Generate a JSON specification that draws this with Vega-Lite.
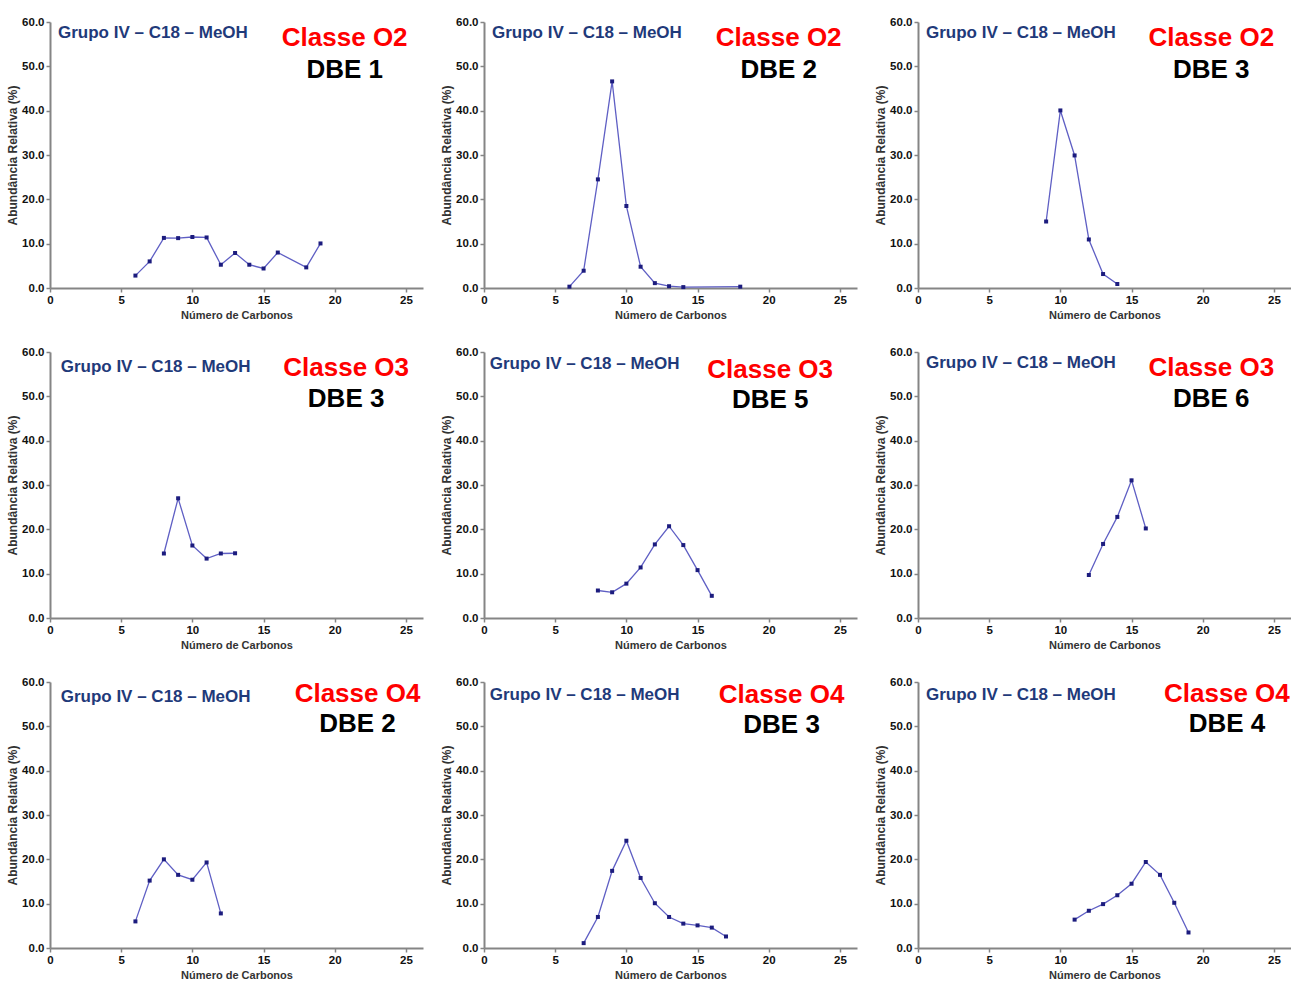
{
  "$schema": "https://vega.github.io/schema/vega-lite/v6.json",
  "background": "white",
  "padding": {"left": 6, "top": 16, "right": 0, "bottom": 0},
  "bounds": "flush",
  "spacing": {"row": 64, "column": 61},
  "columns": 3,
  "data": {"values": [
    {"panel": "O2-1", "classe": "Classe O2", "dbe": "DBE 1", "c": 6, "a": 2.8},
    {"panel": "O2-1", "classe": "Classe O2", "dbe": "DBE 1", "c": 7, "a": 6.0},
    {"panel": "O2-1", "classe": "Classe O2", "dbe": "DBE 1", "c": 8, "a": 11.3},
    {"panel": "O2-1", "classe": "Classe O2", "dbe": "DBE 1", "c": 9, "a": 11.25},
    {"panel": "O2-1", "classe": "Classe O2", "dbe": "DBE 1", "c": 10, "a": 11.5},
    {"panel": "O2-1", "classe": "Classe O2", "dbe": "DBE 1", "c": 11, "a": 11.4},
    {"panel": "O2-1", "classe": "Classe O2", "dbe": "DBE 1", "c": 12, "a": 5.25},
    {"panel": "O2-1", "classe": "Classe O2", "dbe": "DBE 1", "c": 13, "a": 7.9},
    {"panel": "O2-1", "classe": "Classe O2", "dbe": "DBE 1", "c": 14, "a": 5.25},
    {"panel": "O2-1", "classe": "Classe O2", "dbe": "DBE 1", "c": 15, "a": 4.4},
    {"panel": "O2-1", "classe": "Classe O2", "dbe": "DBE 1", "c": 16, "a": 8.0},
    {"panel": "O2-1", "classe": "Classe O2", "dbe": "DBE 1", "c": 18, "a": 4.65},
    {"panel": "O2-1", "classe": "Classe O2", "dbe": "DBE 1", "c": 19, "a": 10.05},
    {"panel": "O2-2", "classe": "Classe O2", "dbe": "DBE 2", "c": 6, "a": 0.3},
    {"panel": "O2-2", "classe": "Classe O2", "dbe": "DBE 2", "c": 7, "a": 3.9},
    {"panel": "O2-2", "classe": "Classe O2", "dbe": "DBE 2", "c": 8, "a": 24.5},
    {"panel": "O2-2", "classe": "Classe O2", "dbe": "DBE 2", "c": 9, "a": 46.6},
    {"panel": "O2-2", "classe": "Classe O2", "dbe": "DBE 2", "c": 10, "a": 18.5},
    {"panel": "O2-2", "classe": "Classe O2", "dbe": "DBE 2", "c": 11, "a": 4.8},
    {"panel": "O2-2", "classe": "Classe O2", "dbe": "DBE 2", "c": 12, "a": 1.1},
    {"panel": "O2-2", "classe": "Classe O2", "dbe": "DBE 2", "c": 13, "a": 0.4},
    {"panel": "O2-2", "classe": "Classe O2", "dbe": "DBE 2", "c": 14, "a": 0.2},
    {"panel": "O2-2", "classe": "Classe O2", "dbe": "DBE 2", "c": 18, "a": 0.3},
    {"panel": "O2-3", "classe": "Classe O2", "dbe": "DBE 3", "c": 9, "a": 15.0},
    {"panel": "O2-3", "classe": "Classe O2", "dbe": "DBE 3", "c": 10, "a": 40.05},
    {"panel": "O2-3", "classe": "Classe O2", "dbe": "DBE 3", "c": 11, "a": 29.9},
    {"panel": "O2-3", "classe": "Classe O2", "dbe": "DBE 3", "c": 12, "a": 10.95},
    {"panel": "O2-3", "classe": "Classe O2", "dbe": "DBE 3", "c": 13, "a": 3.15},
    {"panel": "O2-3", "classe": "Classe O2", "dbe": "DBE 3", "c": 14, "a": 0.9},
    {"panel": "O3-3", "classe": "Classe O3", "dbe": "DBE 3", "c": 8, "a": 14.55},
    {"panel": "O3-3", "classe": "Classe O3", "dbe": "DBE 3", "c": 9, "a": 27.0},
    {"panel": "O3-3", "classe": "Classe O3", "dbe": "DBE 3", "c": 10, "a": 16.35},
    {"panel": "O3-3", "classe": "Classe O3", "dbe": "DBE 3", "c": 11, "a": 13.4},
    {"panel": "O3-3", "classe": "Classe O3", "dbe": "DBE 3", "c": 12, "a": 14.55},
    {"panel": "O3-3", "classe": "Classe O3", "dbe": "DBE 3", "c": 13, "a": 14.6},
    {"panel": "O3-5", "classe": "Classe O3", "dbe": "DBE 5", "c": 8, "a": 6.2},
    {"panel": "O3-5", "classe": "Classe O3", "dbe": "DBE 5", "c": 9, "a": 5.8},
    {"panel": "O3-5", "classe": "Classe O3", "dbe": "DBE 5", "c": 10, "a": 7.75},
    {"panel": "O3-5", "classe": "Classe O3", "dbe": "DBE 5", "c": 11, "a": 11.4},
    {"panel": "O3-5", "classe": "Classe O3", "dbe": "DBE 5", "c": 12, "a": 16.6},
    {"panel": "O3-5", "classe": "Classe O3", "dbe": "DBE 5", "c": 13, "a": 20.7},
    {"panel": "O3-5", "classe": "Classe O3", "dbe": "DBE 5", "c": 14, "a": 16.45},
    {"panel": "O3-5", "classe": "Classe O3", "dbe": "DBE 5", "c": 15, "a": 10.8},
    {"panel": "O3-5", "classe": "Classe O3", "dbe": "DBE 5", "c": 16, "a": 5.0},
    {"panel": "O3-6", "classe": "Classe O3", "dbe": "DBE 6", "c": 12, "a": 9.7},
    {"panel": "O3-6", "classe": "Classe O3", "dbe": "DBE 6", "c": 13, "a": 16.7},
    {"panel": "O3-6", "classe": "Classe O3", "dbe": "DBE 6", "c": 14, "a": 22.8},
    {"panel": "O3-6", "classe": "Classe O3", "dbe": "DBE 6", "c": 15, "a": 31.05},
    {"panel": "O3-6", "classe": "Classe O3", "dbe": "DBE 6", "c": 16, "a": 20.2},
    {"panel": "O4-2", "classe": "Classe O4", "dbe": "DBE 2", "c": 6, "a": 6.0},
    {"panel": "O4-2", "classe": "Classe O4", "dbe": "DBE 2", "c": 7, "a": 15.2},
    {"panel": "O4-2", "classe": "Classe O4", "dbe": "DBE 2", "c": 8, "a": 20.0},
    {"panel": "O4-2", "classe": "Classe O4", "dbe": "DBE 2", "c": 9, "a": 16.5},
    {"panel": "O4-2", "classe": "Classe O4", "dbe": "DBE 2", "c": 10, "a": 15.4},
    {"panel": "O4-2", "classe": "Classe O4", "dbe": "DBE 2", "c": 11, "a": 19.3},
    {"panel": "O4-2", "classe": "Classe O4", "dbe": "DBE 2", "c": 12, "a": 7.8},
    {"panel": "O4-3", "classe": "Classe O4", "dbe": "DBE 3", "c": 7, "a": 1.1},
    {"panel": "O4-3", "classe": "Classe O4", "dbe": "DBE 3", "c": 8, "a": 7.0},
    {"panel": "O4-3", "classe": "Classe O4", "dbe": "DBE 3", "c": 9, "a": 17.4},
    {"panel": "O4-3", "classe": "Classe O4", "dbe": "DBE 3", "c": 10, "a": 24.2},
    {"panel": "O4-3", "classe": "Classe O4", "dbe": "DBE 3", "c": 11, "a": 15.8},
    {"panel": "O4-3", "classe": "Classe O4", "dbe": "DBE 3", "c": 12, "a": 10.1},
    {"panel": "O4-3", "classe": "Classe O4", "dbe": "DBE 3", "c": 13, "a": 7.0},
    {"panel": "O4-3", "classe": "Classe O4", "dbe": "DBE 3", "c": 14, "a": 5.5},
    {"panel": "O4-3", "classe": "Classe O4", "dbe": "DBE 3", "c": 15, "a": 5.1},
    {"panel": "O4-3", "classe": "Classe O4", "dbe": "DBE 3", "c": 16, "a": 4.6},
    {"panel": "O4-3", "classe": "Classe O4", "dbe": "DBE 3", "c": 17, "a": 2.6},
    {"panel": "O4-4", "classe": "Classe O4", "dbe": "DBE 4", "c": 11, "a": 6.4},
    {"panel": "O4-4", "classe": "Classe O4", "dbe": "DBE 4", "c": 12, "a": 8.4},
    {"panel": "O4-4", "classe": "Classe O4", "dbe": "DBE 4", "c": 13, "a": 9.9},
    {"panel": "O4-4", "classe": "Classe O4", "dbe": "DBE 4", "c": 14, "a": 11.9},
    {"panel": "O4-4", "classe": "Classe O4", "dbe": "DBE 4", "c": 15, "a": 14.5},
    {"panel": "O4-4", "classe": "Classe O4", "dbe": "DBE 4", "c": 16, "a": 19.4},
    {"panel": "O4-4", "classe": "Classe O4", "dbe": "DBE 4", "c": 17, "a": 16.5},
    {"panel": "O4-4", "classe": "Classe O4", "dbe": "DBE 4", "c": 18, "a": 10.2},
    {"panel": "O4-4", "classe": "Classe O4", "dbe": "DBE 4", "c": 19, "a": 3.5}
  ]},
  "concat": [
    {"transform": [{"filter": "datum.panel === 'O2-1'"}], "width": 373, "height": 266,
     "layer": [
      {"mark": {"type": "line", "color": "#5f5fc4", "strokeWidth": 1.3},
       "encoding": {"x": {"field": "c", "type": "quantitative", "scale": {"domain": [0, 26.2], "nice": false, "zero": false}, "axis": {"title": "Número de Carbonos", "values": [0, 5, 10, 15, 20, 25], "format": "d"}},
                    "y": {"field": "a", "type": "quantitative", "scale": {"domain": [0, 60], "nice": false}, "axis": {"title": "Abundância Relativa (%)", "values": [0, 10, 20, 30, 40, 50, 60], "format": ".1f"}}}},
      {"mark": {"type": "point", "shape": "square", "filled": true, "size": 16, "color": "#1c1c7e", "opacity": 1},
       "encoding": {"x": {"field": "c", "type": "quantitative"}, "y": {"field": "a", "type": "quantitative"}}},
      {"transform": [{"aggregate": [{"op": "count", "as": "n"}], "groupby": ["classe", "dbe"]}], "mark": {"type": "text", "style": "grupo", "color": "#1f3a7a"}, "encoding": {"x": {"datum": 0.56, "type": "quantitative"}, "y": {"datum": 57.6, "type": "quantitative"}, "text": {"value": "Grupo IV – C18 – MeOH"}}},
      {"transform": [{"aggregate": [{"op": "count", "as": "n"}], "groupby": ["classe", "dbe"]}], "mark": {"type": "text", "style": "big", "color": "#ff0000"}, "encoding": {"x": {"datum": 20.7, "type": "quantitative"}, "y": {"datum": 56.3, "type": "quantitative"}, "text": {"field": "classe"}}},
      {"transform": [{"aggregate": [{"op": "count", "as": "n"}], "groupby": ["classe", "dbe"]}], "mark": {"type": "text", "style": "big", "color": "#000000"}, "encoding": {"x": {"datum": 20.7, "type": "quantitative"}, "y": {"datum": 49.2, "type": "quantitative"}, "text": {"field": "dbe"}}}
     ]},
    {"transform": [{"filter": "datum.panel === 'O2-2'"}], "width": 373, "height": 266,
     "layer": [
      {"mark": {"type": "line", "color": "#5f5fc4", "strokeWidth": 1.3},
       "encoding": {"x": {"field": "c", "type": "quantitative", "scale": {"domain": [0, 26.2], "nice": false, "zero": false}, "axis": {"title": "Número de Carbonos", "values": [0, 5, 10, 15, 20, 25], "format": "d"}},
                    "y": {"field": "a", "type": "quantitative", "scale": {"domain": [0, 60], "nice": false}, "axis": {"title": "Abundância Relativa (%)", "values": [0, 10, 20, 30, 40, 50, 60], "format": ".1f"}}}},
      {"mark": {"type": "point", "shape": "square", "filled": true, "size": 16, "color": "#1c1c7e", "opacity": 1},
       "encoding": {"x": {"field": "c", "type": "quantitative"}, "y": {"field": "a", "type": "quantitative"}}},
      {"transform": [{"aggregate": [{"op": "count", "as": "n"}], "groupby": ["classe", "dbe"]}], "mark": {"type": "text", "style": "grupo", "color": "#1f3a7a"}, "encoding": {"x": {"datum": 0.56, "type": "quantitative"}, "y": {"datum": 57.6, "type": "quantitative"}, "text": {"value": "Grupo IV – C18 – MeOH"}}},
      {"transform": [{"aggregate": [{"op": "count", "as": "n"}], "groupby": ["classe", "dbe"]}], "mark": {"type": "text", "style": "big", "color": "#ff0000"}, "encoding": {"x": {"datum": 20.7, "type": "quantitative"}, "y": {"datum": 56.3, "type": "quantitative"}, "text": {"field": "classe"}}},
      {"transform": [{"aggregate": [{"op": "count", "as": "n"}], "groupby": ["classe", "dbe"]}], "mark": {"type": "text", "style": "big", "color": "#000000"}, "encoding": {"x": {"datum": 20.7, "type": "quantitative"}, "y": {"datum": 49.2, "type": "quantitative"}, "text": {"field": "dbe"}}}
     ]},
    {"transform": [{"filter": "datum.panel === 'O2-3'"}], "width": 373, "height": 266,
     "layer": [
      {"mark": {"type": "line", "color": "#5f5fc4", "strokeWidth": 1.3},
       "encoding": {"x": {"field": "c", "type": "quantitative", "scale": {"domain": [0, 26.2], "nice": false, "zero": false}, "axis": {"title": "Número de Carbonos", "values": [0, 5, 10, 15, 20, 25], "format": "d"}},
                    "y": {"field": "a", "type": "quantitative", "scale": {"domain": [0, 60], "nice": false}, "axis": {"title": "Abundância Relativa (%)", "values": [0, 10, 20, 30, 40, 50, 60], "format": ".1f"}}}},
      {"mark": {"type": "point", "shape": "square", "filled": true, "size": 16, "color": "#1c1c7e", "opacity": 1},
       "encoding": {"x": {"field": "c", "type": "quantitative"}, "y": {"field": "a", "type": "quantitative"}}},
      {"transform": [{"aggregate": [{"op": "count", "as": "n"}], "groupby": ["classe", "dbe"]}], "mark": {"type": "text", "style": "grupo", "color": "#1f3a7a"}, "encoding": {"x": {"datum": 0.56, "type": "quantitative"}, "y": {"datum": 57.6, "type": "quantitative"}, "text": {"value": "Grupo IV – C18 – MeOH"}}},
      {"transform": [{"aggregate": [{"op": "count", "as": "n"}], "groupby": ["classe", "dbe"]}], "mark": {"type": "text", "style": "big", "color": "#ff0000"}, "encoding": {"x": {"datum": 20.6, "type": "quantitative"}, "y": {"datum": 56.3, "type": "quantitative"}, "text": {"field": "classe"}}},
      {"transform": [{"aggregate": [{"op": "count", "as": "n"}], "groupby": ["classe", "dbe"]}], "mark": {"type": "text", "style": "big", "color": "#000000"}, "encoding": {"x": {"datum": 20.6, "type": "quantitative"}, "y": {"datum": 49.2, "type": "quantitative"}, "text": {"field": "dbe"}}}
     ]},
    {"transform": [{"filter": "datum.panel === 'O3-3'"}], "width": 373, "height": 266,
     "layer": [
      {"mark": {"type": "line", "color": "#5f5fc4", "strokeWidth": 1.3},
       "encoding": {"x": {"field": "c", "type": "quantitative", "scale": {"domain": [0, 26.2], "nice": false, "zero": false}, "axis": {"title": "Número de Carbonos", "values": [0, 5, 10, 15, 20, 25], "format": "d"}},
                    "y": {"field": "a", "type": "quantitative", "scale": {"domain": [0, 60], "nice": false}, "axis": {"title": "Abundância Relativa (%)", "values": [0, 10, 20, 30, 40, 50, 60], "format": ".1f"}}}},
      {"mark": {"type": "point", "shape": "square", "filled": true, "size": 16, "color": "#1c1c7e", "opacity": 1},
       "encoding": {"x": {"field": "c", "type": "quantitative"}, "y": {"field": "a", "type": "quantitative"}}},
      {"transform": [{"aggregate": [{"op": "count", "as": "n"}], "groupby": ["classe", "dbe"]}], "mark": {"type": "text", "style": "grupo", "color": "#1f3a7a"}, "encoding": {"x": {"datum": 0.75, "type": "quantitative"}, "y": {"datum": 56.6, "type": "quantitative"}, "text": {"value": "Grupo IV – C18 – MeOH"}}},
      {"transform": [{"aggregate": [{"op": "count", "as": "n"}], "groupby": ["classe", "dbe"]}], "mark": {"type": "text", "style": "big", "color": "#ff0000"}, "encoding": {"x": {"datum": 20.8, "type": "quantitative"}, "y": {"datum": 56.3, "type": "quantitative"}, "text": {"field": "classe"}}},
      {"transform": [{"aggregate": [{"op": "count", "as": "n"}], "groupby": ["classe", "dbe"]}], "mark": {"type": "text", "style": "big", "color": "#000000"}, "encoding": {"x": {"datum": 20.8, "type": "quantitative"}, "y": {"datum": 49.5, "type": "quantitative"}, "text": {"field": "dbe"}}}
     ]},
    {"transform": [{"filter": "datum.panel === 'O3-5'"}], "width": 373, "height": 266,
     "layer": [
      {"mark": {"type": "line", "color": "#5f5fc4", "strokeWidth": 1.3},
       "encoding": {"x": {"field": "c", "type": "quantitative", "scale": {"domain": [0, 26.2], "nice": false, "zero": false}, "axis": {"title": "Número de Carbonos", "values": [0, 5, 10, 15, 20, 25], "format": "d"}},
                    "y": {"field": "a", "type": "quantitative", "scale": {"domain": [0, 60], "nice": false}, "axis": {"title": "Abundância Relativa (%)", "values": [0, 10, 20, 30, 40, 50, 60], "format": ".1f"}}}},
      {"mark": {"type": "point", "shape": "square", "filled": true, "size": 16, "color": "#1c1c7e", "opacity": 1},
       "encoding": {"x": {"field": "c", "type": "quantitative"}, "y": {"field": "a", "type": "quantitative"}}},
      {"transform": [{"aggregate": [{"op": "count", "as": "n"}], "groupby": ["classe", "dbe"]}], "mark": {"type": "text", "style": "grupo", "color": "#1f3a7a"}, "encoding": {"x": {"datum": 0.4, "type": "quantitative"}, "y": {"datum": 57.3, "type": "quantitative"}, "text": {"value": "Grupo IV – C18 – MeOH"}}},
      {"transform": [{"aggregate": [{"op": "count", "as": "n"}], "groupby": ["classe", "dbe"]}], "mark": {"type": "text", "style": "big", "color": "#ff0000"}, "encoding": {"x": {"datum": 20.1, "type": "quantitative"}, "y": {"datum": 55.9, "type": "quantitative"}, "text": {"field": "classe"}}},
      {"transform": [{"aggregate": [{"op": "count", "as": "n"}], "groupby": ["classe", "dbe"]}], "mark": {"type": "text", "style": "big", "color": "#000000"}, "encoding": {"x": {"datum": 20.1, "type": "quantitative"}, "y": {"datum": 49.1, "type": "quantitative"}, "text": {"field": "dbe"}}}
     ]},
    {"transform": [{"filter": "datum.panel === 'O3-6'"}], "width": 373, "height": 266,
     "layer": [
      {"mark": {"type": "line", "color": "#5f5fc4", "strokeWidth": 1.3},
       "encoding": {"x": {"field": "c", "type": "quantitative", "scale": {"domain": [0, 26.2], "nice": false, "zero": false}, "axis": {"title": "Número de Carbonos", "values": [0, 5, 10, 15, 20, 25], "format": "d"}},
                    "y": {"field": "a", "type": "quantitative", "scale": {"domain": [0, 60], "nice": false}, "axis": {"title": "Abundância Relativa (%)", "values": [0, 10, 20, 30, 40, 50, 60], "format": ".1f"}}}},
      {"mark": {"type": "point", "shape": "square", "filled": true, "size": 16, "color": "#1c1c7e", "opacity": 1},
       "encoding": {"x": {"field": "c", "type": "quantitative"}, "y": {"field": "a", "type": "quantitative"}}},
      {"transform": [{"aggregate": [{"op": "count", "as": "n"}], "groupby": ["classe", "dbe"]}], "mark": {"type": "text", "style": "grupo", "color": "#1f3a7a"}, "encoding": {"x": {"datum": 0.56, "type": "quantitative"}, "y": {"datum": 57.5, "type": "quantitative"}, "text": {"value": "Grupo IV – C18 – MeOH"}}},
      {"transform": [{"aggregate": [{"op": "count", "as": "n"}], "groupby": ["classe", "dbe"]}], "mark": {"type": "text", "style": "big", "color": "#ff0000"}, "encoding": {"x": {"datum": 20.6, "type": "quantitative"}, "y": {"datum": 56.3, "type": "quantitative"}, "text": {"field": "classe"}}},
      {"transform": [{"aggregate": [{"op": "count", "as": "n"}], "groupby": ["classe", "dbe"]}], "mark": {"type": "text", "style": "big", "color": "#000000"}, "encoding": {"x": {"datum": 20.6, "type": "quantitative"}, "y": {"datum": 49.5, "type": "quantitative"}, "text": {"field": "dbe"}}}
     ]},
    {"transform": [{"filter": "datum.panel === 'O4-2'"}], "width": 373, "height": 266,
     "layer": [
      {"mark": {"type": "line", "color": "#5f5fc4", "strokeWidth": 1.3},
       "encoding": {"x": {"field": "c", "type": "quantitative", "scale": {"domain": [0, 26.2], "nice": false, "zero": false}, "axis": {"title": "Número de Carbonos", "values": [0, 5, 10, 15, 20, 25], "format": "d"}},
                    "y": {"field": "a", "type": "quantitative", "scale": {"domain": [0, 60], "nice": false}, "axis": {"title": "Abundância Relativa (%)", "values": [0, 10, 20, 30, 40, 50, 60], "format": ".1f"}}}},
      {"mark": {"type": "point", "shape": "square", "filled": true, "size": 16, "color": "#1c1c7e", "opacity": 1},
       "encoding": {"x": {"field": "c", "type": "quantitative"}, "y": {"field": "a", "type": "quantitative"}}},
      {"transform": [{"aggregate": [{"op": "count", "as": "n"}], "groupby": ["classe", "dbe"]}], "mark": {"type": "text", "style": "grupo", "color": "#1f3a7a"}, "encoding": {"x": {"datum": 0.75, "type": "quantitative"}, "y": {"datum": 56.6, "type": "quantitative"}, "text": {"value": "Grupo IV – C18 – MeOH"}}},
      {"transform": [{"aggregate": [{"op": "count", "as": "n"}], "groupby": ["classe", "dbe"]}], "mark": {"type": "text", "style": "big", "color": "#ff0000"}, "encoding": {"x": {"datum": 21.6, "type": "quantitative"}, "y": {"datum": 57.3, "type": "quantitative"}, "text": {"field": "classe"}}},
      {"transform": [{"aggregate": [{"op": "count", "as": "n"}], "groupby": ["classe", "dbe"]}], "mark": {"type": "text", "style": "big", "color": "#000000"}, "encoding": {"x": {"datum": 21.6, "type": "quantitative"}, "y": {"datum": 50.6, "type": "quantitative"}, "text": {"field": "dbe"}}}
     ]},
    {"transform": [{"filter": "datum.panel === 'O4-3'"}], "width": 373, "height": 266,
     "layer": [
      {"mark": {"type": "line", "color": "#5f5fc4", "strokeWidth": 1.3},
       "encoding": {"x": {"field": "c", "type": "quantitative", "scale": {"domain": [0, 26.2], "nice": false, "zero": false}, "axis": {"title": "Número de Carbonos", "values": [0, 5, 10, 15, 20, 25], "format": "d"}},
                    "y": {"field": "a", "type": "quantitative", "scale": {"domain": [0, 60], "nice": false}, "axis": {"title": "Abundância Relativa (%)", "values": [0, 10, 20, 30, 40, 50, 60], "format": ".1f"}}}},
      {"mark": {"type": "point", "shape": "square", "filled": true, "size": 16, "color": "#1c1c7e", "opacity": 1},
       "encoding": {"x": {"field": "c", "type": "quantitative"}, "y": {"field": "a", "type": "quantitative"}}},
      {"transform": [{"aggregate": [{"op": "count", "as": "n"}], "groupby": ["classe", "dbe"]}], "mark": {"type": "text", "style": "grupo", "color": "#1f3a7a"}, "encoding": {"x": {"datum": 0.4, "type": "quantitative"}, "y": {"datum": 57.0, "type": "quantitative"}, "text": {"value": "Grupo IV – C18 – MeOH"}}},
      {"transform": [{"aggregate": [{"op": "count", "as": "n"}], "groupby": ["classe", "dbe"]}], "mark": {"type": "text", "style": "big", "color": "#ff0000"}, "encoding": {"x": {"datum": 20.9, "type": "quantitative"}, "y": {"datum": 57.0, "type": "quantitative"}, "text": {"field": "classe"}}},
      {"transform": [{"aggregate": [{"op": "count", "as": "n"}], "groupby": ["classe", "dbe"]}], "mark": {"type": "text", "style": "big", "color": "#000000"}, "encoding": {"x": {"datum": 20.9, "type": "quantitative"}, "y": {"datum": 50.3, "type": "quantitative"}, "text": {"field": "dbe"}}}
     ]},
    {"transform": [{"filter": "datum.panel === 'O4-4'"}], "width": 373, "height": 266,
     "layer": [
      {"mark": {"type": "line", "color": "#5f5fc4", "strokeWidth": 1.3},
       "encoding": {"x": {"field": "c", "type": "quantitative", "scale": {"domain": [0, 26.2], "nice": false, "zero": false}, "axis": {"title": "Número de Carbonos", "values": [0, 5, 10, 15, 20, 25], "format": "d"}},
                    "y": {"field": "a", "type": "quantitative", "scale": {"domain": [0, 60], "nice": false}, "axis": {"title": "Abundância Relativa (%)", "values": [0, 10, 20, 30, 40, 50, 60], "format": ".1f"}}}},
      {"mark": {"type": "point", "shape": "square", "filled": true, "size": 16, "color": "#1c1c7e", "opacity": 1},
       "encoding": {"x": {"field": "c", "type": "quantitative"}, "y": {"field": "a", "type": "quantitative"}}},
      {"transform": [{"aggregate": [{"op": "count", "as": "n"}], "groupby": ["classe", "dbe"]}], "mark": {"type": "text", "style": "grupo", "color": "#1f3a7a"}, "encoding": {"x": {"datum": 0.56, "type": "quantitative"}, "y": {"datum": 57.1, "type": "quantitative"}, "text": {"value": "Grupo IV – C18 – MeOH"}}},
      {"transform": [{"aggregate": [{"op": "count", "as": "n"}], "groupby": ["classe", "dbe"]}], "mark": {"type": "text", "style": "big", "color": "#ff0000"}, "encoding": {"x": {"datum": 21.7, "type": "quantitative"}, "y": {"datum": 57.3, "type": "quantitative"}, "text": {"field": "classe"}}},
      {"transform": [{"aggregate": [{"op": "count", "as": "n"}], "groupby": ["classe", "dbe"]}], "mark": {"type": "text", "style": "big", "color": "#000000"}, "encoding": {"x": {"datum": 21.7, "type": "quantitative"}, "y": {"datum": 50.6, "type": "quantitative"}, "text": {"field": "dbe"}}}
     ]}
  ],
  "config": {
    "view": {"stroke": null},
    "style": {
      "grupo": {"align": "left", "baseline": "middle", "font": "Liberation Sans", "fontWeight": "bold", "fontSize": 17},
      "big": {"align": "center", "baseline": "middle", "font": "Liberation Sans", "fontWeight": "bold", "fontSize": 26}
    },
    "axis": {
      "grid": false,
      "domainColor": "#858585",
      "domainWidth": 2,
      "tickColor": "#858585",
      "tickWidth": 1.5,
      "tickSize": 4,
      "labelFont": "Liberation Sans",
      "labelFontWeight": "bold",
      "labelFontSize": 11.5,
      "labelColor": "#111111",
      "labelPadding": 2,
      "titleFont": "Liberation Sans",
      "titleFontWeight": "bold",
      "titleColor": "#333333"
    },
    "axisX": {"titleFontSize": 11, "titlePadding": 4, "labelFlush": false},
    "axisY": {"titleFontSize": 12, "titlePadding": 2}
  }
}
